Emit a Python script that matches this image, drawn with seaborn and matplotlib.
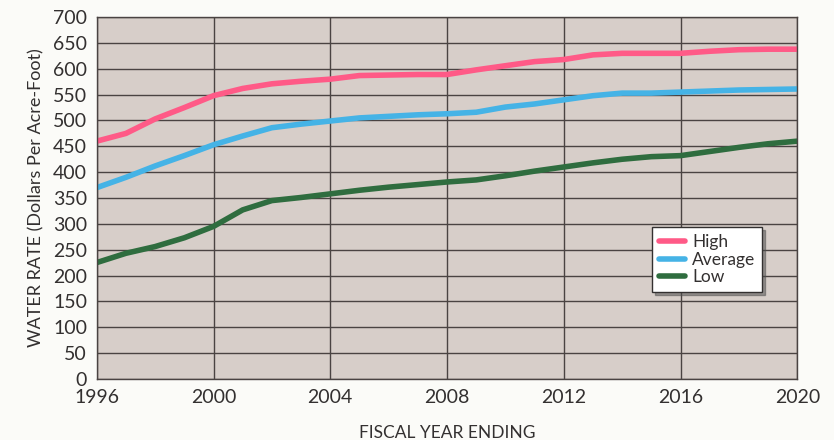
"""
Water rate chart, high / average / low per fiscal year
"""

import pandas as pd
import matplotlib
matplotlib.use("Agg")
import matplotlib.pyplot as plt
import seaborn as sns
from matplotlib.lines import Line2D

years = list(range(1996, 2021))
high = [460, 475, 503, 525, 548, 562, 571, 576, 580, 587, 588, 589, 589,
        598, 606, 614, 618, 627, 630, 630, 630, 634, 637, 638, 638]
average = [370, 390, 412, 432, 453, 470, 486, 493, 499, 505, 508, 511, 513,
           516, 526, 532, 540, 548, 553, 553, 555, 557, 559, 560, 561]
low = [225, 243, 256, 273, 295, 327, 345, 351, 358, 365, 371, 376, 381,
       385, 393, 402, 410, 418, 425, 430, 432, 440, 448, 455, 460]

series_names = ["High", "Average", "Low"]
colors = ["#ff5a87", "#45b3e6", "#2f6d3f"]

df = pd.DataFrame({"year": years, "High": high, "Average": average, "Low": low})
long_df = df.melt(id_vars="year", var_name="series", value_name="rate")

sns.set_style("white")
plt.rcParams["font.family"] = ["Lato", "DejaVu Sans"]

fig = plt.figure(figsize=(8.34, 4.40), dpi=100)
fig.patch.set_facecolor("#fbfbf8")
ax = fig.add_axes([0.116, 0.139, 0.840, 0.822])
ax.set_facecolor("#d7cec9")

sns.lineplot(data=long_df, x="year", y="rate", hue="series",
             hue_order=series_names, palette=colors, linewidth=4,
             ax=ax, legend=False)

ax.set_xlim(1996, 2020)
ax.set_ylim(0, 700)
ax.set_xticks(range(1996, 2021, 4))
ax.set_yticks(range(0, 701, 50))
ax.grid(True, color="#4a4342", linewidth=1)
ax.set_axisbelow(True)
for s in ax.spines.values():
    s.set_color("#4a4342")
    s.set_linewidth(1)
ax.tick_params(axis="both", which="both", direction="out", length=6,
               width=1, color="#4a4342", labelsize=14, labelcolor="#333030",
               pad=1)

ax.set_xlabel("FISCAL YEAR ENDING", fontsize=12.5, color="#333030",
              labelpad=14)
ax.set_ylabel("WATER RATE (Dollars Per Acre-Foot)", fontsize=13,
              color="#333030", labelpad=6)

handles = [Line2D([0], [0], color=c, linewidth=4) for c in colors]
leg = ax.legend(handles, series_names, loc="upper left",
                bbox_to_anchor=(0.793, 0.42), borderaxespad=0, frameon=True,
                fancybox=False, shadow=True, fontsize=12.5, handlelength=1.5,
                handletextpad=0.4, labelspacing=0.1, borderpad=0.4)
leg.get_frame().set_edgecolor("#333030")
leg.get_frame().set_facecolor("white")
leg.get_frame().set_alpha(1)
for t in leg.get_texts():
    t.set_color("#333030")

fig.savefig("out.png", dpi=100, facecolor=fig.get_facecolor())
